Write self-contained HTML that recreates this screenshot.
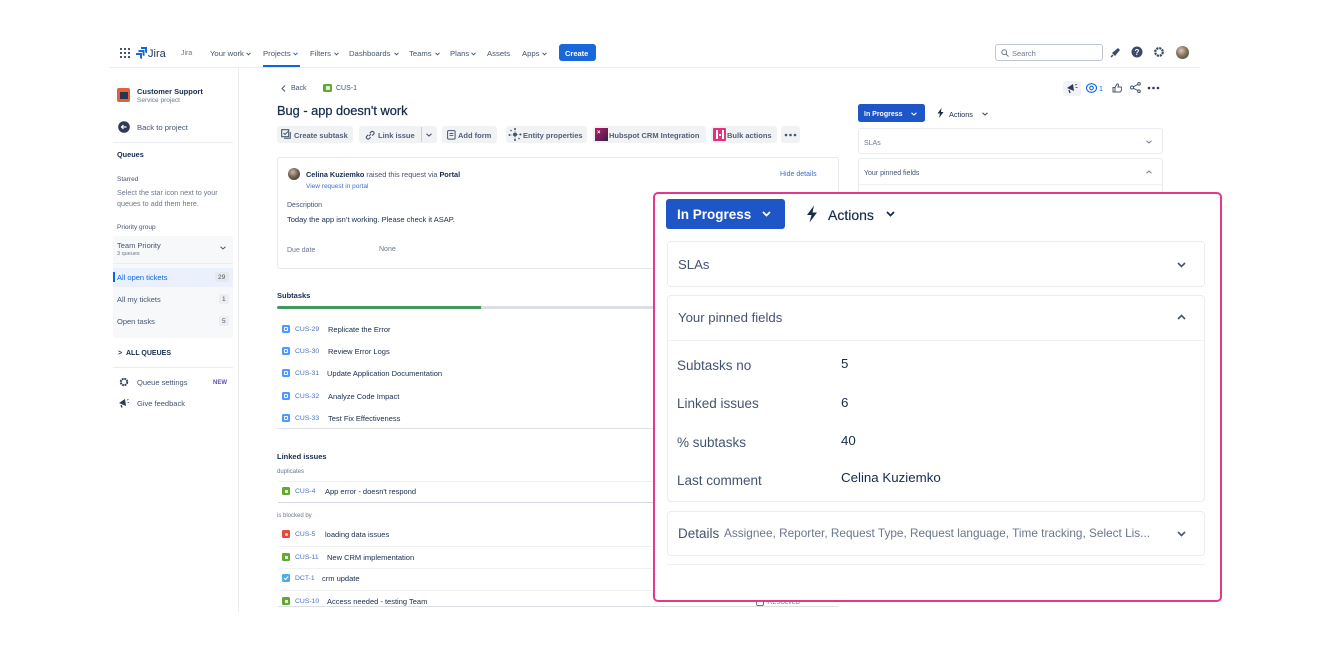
<!DOCTYPE html>
<html><head><meta charset="utf-8">
<style>
*{margin:0;padding:0;box-sizing:border-box}
body{width:1330px;height:650px;background:#fff;position:relative;overflow:hidden;font-family:"Liberation Sans",Arial,sans-serif;color:#172b4d}
.a{position:absolute}
.t{position:absolute;white-space:nowrap;line-height:1;margin-top:1px}
.b{font-weight:bold}
.g{color:#44546f}
.lg{color:#6b778c}
.bl{color:#0c66e4}
.btn{position:absolute;background:#f1f2f4;border-radius:3px;height:17px;top:126px}
.ln{position:absolute;height:1px;background:#e6e8ec}
.box{position:absolute;border:1px solid #ebecf0;border-radius:4px;background:#fff}
.nav{font-size:7.7px;color:#44546f;top:49px}
.tb{font-size:7.5px;font-weight:bold;color:#505f79;top:131px}
.id{font-size:6.8px;color:#4c6fbf}
.row{font-size:7.5px;color:#172b4d}
.sb{font-size:7.5px;color:#44546f}
</style></head><body>

<!-- ============ TOP NAV ============ -->
<svg class="a" style="left:120px;top:48px" width="10" height="10"><g fill="#44546f">
<rect x="0" y="0" width="2" height="2"/><rect x="4" y="0" width="2" height="2"/><rect x="8" y="0" width="2" height="2"/>
<rect x="0" y="4" width="2" height="2"/><rect x="4" y="4" width="2" height="2"/><rect x="8" y="4" width="2" height="2"/>
<rect x="0" y="8" width="2" height="2"/><rect x="4" y="8" width="2" height="2"/><rect x="8" y="8" width="2" height="2"/></g></svg>
<svg class="a" style="left:136px;top:47px" width="11" height="12" viewBox="0 0 11 12"><g fill="#1868db">
<path d="M5 0h6v6a2 2 0 0 1-2-2V2H5z"/><path d="M2.5 3h6v6a2 2 0 0 1-2-2V5h-4z"/><path d="M0 6h6v6a2 2 0 0 1-2-2V8H0z"/></g></svg>
<div class="t" style="left:148px;top:47.5px;font-size:11px;color:#253858">Jira</div>
<div class="t nav" style="left:181px;font-size:7px;color:#6b778c">Jira</div>
<div class="t nav" style="left:210px">Your work</div>
<div class="t nav bl" style="left:263px">Projects</div>
<div class="t nav" style="left:310px">Filters</div>
<div class="t nav" style="left:349px">Dashboards</div>
<div class="t nav" style="left:409px">Teams</div>
<div class="t nav" style="left:450px">Plans</div>
<div class="t nav" style="left:487px">Assets</div>
<div class="t nav" style="left:522px">Apps</div>
<svg class="a" style="left:246px;top:51.5px" width="5" height="4"><path d="M0.5 0.8L2.5 2.8L4.5 0.8" fill="none" stroke="#44546f"/></svg>
<svg class="a" style="left:293px;top:51.5px" width="5" height="4"><path d="M0.5 0.8L2.5 2.8L4.5 0.8" fill="none" stroke="#0c66e4"/></svg>
<svg class="a" style="left:334px;top:51.5px" width="5" height="4"><path d="M0.5 0.8L2.5 2.8L4.5 0.8" fill="none" stroke="#44546f"/></svg>
<svg class="a" style="left:394px;top:51.5px" width="5" height="4"><path d="M0.5 0.8L2.5 2.8L4.5 0.8" fill="none" stroke="#44546f"/></svg>
<svg class="a" style="left:435px;top:51.5px" width="5" height="4"><path d="M0.5 0.8L2.5 2.8L4.5 0.8" fill="none" stroke="#44546f"/></svg>
<svg class="a" style="left:471px;top:51.5px" width="5" height="4"><path d="M0.5 0.8L2.5 2.8L4.5 0.8" fill="none" stroke="#44546f"/></svg>
<svg class="a" style="left:542px;top:51.5px" width="5" height="4"><path d="M0.5 0.8L2.5 2.8L4.5 0.8" fill="none" stroke="#44546f"/></svg>
<div class="a" style="left:263px;top:65px;width:37px;height:2px;background:#0c66e4"></div>
<div class="a" style="left:559px;top:44px;width:37px;height:17px;background:#1868db;border-radius:3px"></div>
<div class="t b" style="left:565px;top:49px;font-size:7.5px;color:#fff">Create</div>
<div class="a" style="left:110px;top:67px;width:1090px;height:1px;background:#ebecf0"></div>

<div class="a" style="left:995px;top:44px;width:108px;height:17px;border:1px solid #c1c7d0;border-radius:3px"></div>
<svg class="a" style="left:1001px;top:49px" width="8" height="8"><circle cx="3.2" cy="3.2" r="2.4" fill="none" stroke="#6b778c" stroke-width="1"/><path d="M5 5L7.5 7.5" stroke="#6b778c"/></svg>
<div class="t" style="left:1012px;top:49px;font-size:7.5px;color:#6b778c">Search</div>
<svg class="a" style="left:1110px;top:47px" width="11" height="11"><path d="M2 6 L8 1 L10 3 L5 9 Z" fill="#3b4a6b"/><path d="M1 10 L3 8" stroke="#3b4a6b" stroke-width="1.5"/></svg>
<svg class="a" style="left:1131px;top:46px" width="12" height="12"><circle cx="6" cy="6" r="5.5" fill="#3b4a6b"/><text x="6" y="9" font-size="8" font-weight="bold" fill="#fff" text-anchor="middle" font-family="Liberation Sans">?</text></svg>
<svg class="a" style="left:1153px;top:46px" width="12" height="12"><circle cx="6" cy="6" r="3.8" fill="none" stroke="#3b4a6b" stroke-width="2.2" stroke-dasharray="2.2 0.8"/><circle cx="6" cy="6" r="2.2" fill="#fff"/></svg>
<div class="a" style="left:1176px;top:46px;width:13px;height:13px;border-radius:50%;background:radial-gradient(circle at 40% 35%,#d9cbb8 0,#8a7460 45%,#2f3a2f 100%)"></div>

<!-- ============ SIDEBAR ============ -->
<div class="a" style="left:238px;top:67px;width:1px;height:545px;background:#ebecf0"></div>
<div class="a" style="left:117px;top:88px;width:13px;height:14px;background:#e2603c;border-radius:2px"></div>
<div class="a" style="left:120px;top:92px;width:8px;height:7px;background:#2a3552"></div>
<div class="t b" style="left:137px;top:87px;font-size:7.5px">Customer Support</div>
<div class="t lg" style="left:137px;top:96.5px;font-size:6.5px">Service project</div>
<svg class="a" style="left:118px;top:121px" width="12" height="12"><circle cx="6" cy="6" r="5.8" fill="#2e3a57"/><path d="M8.5 6H3.5M5.5 4L3.5 6L5.5 8" stroke="#fff" stroke-width="1.2" fill="none"/></svg>
<div class="t sb" style="left:137px;top:123px;font-size:7.7px">Back to project</div>
<div class="a" style="left:113px;top:142px;width:120px;height:1px;background:#ebecf0"></div>
<div class="t b" style="left:117px;top:150px;font-size:7.3px">Queues</div>
<div class="t g" style="left:117px;top:175.5px;font-size:6.5px">Starred</div>
<div class="t lg" style="left:117px;top:188px;font-size:7.2px">Select the star icon next to your</div>
<div class="t lg" style="left:117px;top:199px;font-size:7.2px">queues to add them here.</div>
<div class="t g" style="left:117px;top:223.5px;font-size:6.5px">Priority group</div>
<div class="a" style="left:113px;top:236px;width:120px;height:102px;background:#f7f8f9;border-radius:3px"></div>
<div class="a" style="left:113px;top:263px;width:120px;height:1px;background:#ebecf0"></div>
<div class="t sb" style="left:117px;top:241px;font-size:7.5px">Team Priority</div>
<div class="t lg" style="left:117px;top:251px;font-size:5.5px">3 queues</div>
<svg class="a" style="left:220px;top:246px" width="6" height="4"><path d="M0.5 0.8L3 3L5.5 0.8" fill="none" stroke="#44546f"/></svg>
<div class="a" style="left:113px;top:268px;width:120px;height:19px;background:#eaf1fc"></div>
<div class="a" style="left:113px;top:272px;width:2px;height:10px;background:#0c66e4"></div>
<div class="t bl" style="left:117px;top:273px;font-size:7.5px">All open tickets</div>
<div class="a" style="left:215px;top:272px;width:14px;height:10px;background:#e6e8ec;border-radius:2px"></div>
<div class="t g" style="left:218px;top:273.5px;font-size:6.5px">29</div>
<div class="t sb" style="left:117px;top:295px;font-size:7.5px">All my tickets</div>
<div class="a" style="left:219px;top:294px;width:10px;height:10px;background:#eceef1;border-radius:2px"></div>
<div class="t g" style="left:222px;top:295.5px;font-size:6.5px">1</div>
<div class="t sb" style="left:117px;top:317px;font-size:7.5px">Open tasks</div>
<div class="a" style="left:219px;top:316px;width:10px;height:10px;background:#eceef1;border-radius:2px"></div>
<div class="t g" style="left:222px;top:317.5px;font-size:6.5px">5</div>
<div class="t b" style="left:118px;top:349px;font-size:7px;color:#172b4d">&gt;</div>
<div class="t b" style="left:126px;top:349px;font-size:7px;color:#172b4d">ALL QUEUES</div>
<div class="a" style="left:113px;top:367px;width:120px;height:1px;background:#ebecf0"></div>
<svg class="a" style="left:119px;top:377px" width="10" height="10"><circle cx="5" cy="5" r="3.2" fill="none" stroke="#2e3a57" stroke-width="2" stroke-dasharray="1.8 0.7"/><circle cx="5" cy="5" r="1.5" fill="#fff"/></svg>
<div class="t sb" style="left:137px;top:378px;font-size:7.5px">Queue settings</div>
<div class="t b" style="left:213px;top:378.7px;font-size:6px;color:#5e4db2">NEW</div>
<svg class="a" style="left:118px;top:398px" width="11" height="10"><path d="M1 5 L7 1 L8 8 Z" fill="#2e3a57"/><path d="M3 7 L4 9.5" stroke="#2e3a57" stroke-width="1.3"/><path d="M9 2 L10.5 1.5M9.5 4.5 L11 4.5" stroke="#2e3a57" stroke-width="0.8"/></svg>
<div class="t sb" style="left:137px;top:399px;font-size:7.5px">Give feedback</div>

<!-- ============ MAIN ============ -->
<svg class="a" style="left:281px;top:85px" width="5" height="7"><path d="M4 0.5L1 3.5L4 6.5" fill="none" stroke="#44546f" stroke-width="1"/></svg>
<div class="t g" style="left:291px;top:84.2px;font-size:7px">Back</div>
<div class="a" style="left:323px;top:84px;width:9px;height:8px;background:#63a833;border-radius:1.5px"></div>
<div class="a" style="left:325.5px;top:86px;width:4px;height:4px;background:#dff0d0"></div>
<div class="t g" style="left:336px;top:84.2px;font-size:7px">CUS-1</div>
<div class="t" style="left:277px;top:104px;font-size:12.8px;color:#172b4d;-webkit-text-stroke:0.25px #172b4d">Bug - app doesn't work</div>

<!-- toolbar -->
<div class="btn" style="left:277px;width:76px"></div>
<svg class="a" style="left:281px;top:129px" width="10" height="10"><rect x="0.7" y="0.7" width="7" height="7" fill="none" stroke="#44546f" stroke-width="1.1"/><path d="M2.5 4L4 5.5L7 2.5" fill="none" stroke="#44546f"/><path d="M3 9.3H9.3V3" fill="none" stroke="#44546f"/></svg>
<div class="t tb" style="left:294px">Create subtask</div>
<div class="btn" style="left:359px;width:78px"></div>
<div class="a" style="left:421px;top:127px;width:1px;height:15px;background:#c9ced6"></div>
<svg class="a" style="left:365px;top:130px" width="10" height="10"><path d="M4 6L6 4M3.2 4.8L1.8 6.2a1.7 1.7 0 0 0 2.4 2.4L5.6 7.2M4.8 3.2L6.2 1.8a1.7 1.7 0 0 1 2.4 2.4L7.2 5.6" fill="none" stroke="#44546f" stroke-width="1.1"/></svg>
<div class="t tb" style="left:378px">Link issue</div>
<svg class="a" style="left:426px;top:133px" width="6" height="4"><path d="M0.5 0.8L3 3L5.5 0.8" fill="none" stroke="#44546f" stroke-width="1.1"/></svg>
<div class="btn" style="left:442px;width:55px"></div>
<svg class="a" style="left:447px;top:130px" width="9" height="10"><rect x="0.6" y="0.6" width="7.5" height="8.5" rx="1" fill="none" stroke="#44546f" stroke-width="1"/><path d="M2.5 3.5H6.3M2.5 5.6H6.3" stroke="#44546f" stroke-width="0.9"/></svg>
<div class="t tb" style="left:458px">Add form</div>
<div class="btn" style="left:506px;width:81px"></div>
<svg class="a" style="left:508px;top:128px" width="14" height="13"><circle cx="7" cy="6.5" r="2" fill="#44546f"/><g fill="#44546f"><circle cx="7" cy="1" r="1"/><circle cx="7" cy="12" r="1"/><circle cx="1.5" cy="7" r="1"/><circle cx="12.5" cy="6.5" r="1"/><circle cx="3" cy="2.5" r="0.8"/><circle cx="11" cy="10.5" r="0.8"/></g><path d="M1.5 7H5M9 6.5H12.5M7 1V4.5M7 8.5V12" stroke="#44546f" stroke-width="0.6" stroke-dasharray="1 0.8"/></svg>
<div class="t tb" style="left:523px">Entity properties</div>
<div class="btn" style="left:593px;width:113px"></div>
<div class="a" style="left:595px;top:128px;width:13px;height:13px;background:linear-gradient(135deg,#c2185b 0,#7a1d5c 50%,#2a2540 100%)"></div>
<div class="t b" style="left:597px;top:129px;font-size:6px;color:#fff">×</div>
<div class="t tb" style="left:609px">Hubspot CRM Integration</div>
<div class="btn" style="left:711px;width:66px"></div>
<div class="a" style="left:713px;top:128px;width:13px;height:13px;background:#e2317e;border-radius:1px"></div>
<div class="a" style="left:715.5px;top:130px;width:2px;height:9px;background:#fff"></div>
<div class="a" style="left:721.5px;top:130px;width:2px;height:9px;background:#fff"></div>
<div class="a" style="left:718.5px;top:134px;width:2px;height:1.5px;background:#fff"></div>
<div class="t tb" style="left:727px">Bulk actions</div>
<div class="btn" style="left:781px;width:19px"></div>
<svg class="a" style="left:784px;top:133px" width="13" height="4"><g fill="#44546f"><circle cx="2" cy="2" r="1.3"/><circle cx="6.5" cy="2" r="1.3"/><circle cx="11" cy="2" r="1.3"/></g></svg>

<!-- request card -->
<div class="a" style="left:277px;top:157px;width:562px;height:112px;border:1px solid #e6e8ec;border-radius:3px"></div>
<div class="a" style="left:288px;top:168px;width:12px;height:12px;border-radius:50%;background:radial-gradient(circle at 40% 35%,#c8b8a6 0,#6d5c4c 50%,#2a302a 100%)"></div>
<div class="t" style="left:306px;top:170px;font-size:7.3px;color:#44546f"><span class="b" style="color:#172b4d">Celina Kuziemko</span> raised this request via <span class="b" style="color:#172b4d">Portal</span></div>
<div class="t bl" style="left:306px;top:183.4px;font-size:6.5px;color:#3c6fd8">View request in portal</div>
<div class="t" style="left:780px;top:170.2px;font-size:7px;color:#3c6fd8">Hide details</div>
<div class="t g" style="left:287px;top:201.2px;font-size:7px">Description</div>
<div class="t" style="left:287px;top:214.9px;font-size:7.5px">Today the app isn’t working. Please check it ASAP.</div>
<div class="t lg" style="left:287px;top:246.2px;font-size:7px">Due date</div>
<div class="t lg" style="left:379px;top:245.2px;font-size:7px">None</div>

<!-- subtasks -->
<div class="t b" style="left:277px;top:291px;font-size:7.5px">Subtasks</div>
<div class="a" style="left:277px;top:306px;width:204px;height:3px;background:#3f9a5c;border-radius:1.5px 0 0 1.5px"></div>
<div class="a" style="left:481px;top:306px;width:357px;height:3px;background:#dcdfe4"></div>

<div class="a" style="left:282px;top:325px;width:8px;height:8px;background:#4c9aff;border-radius:1.5px"></div><div class="a" style="left:284px;top:327px;width:4px;height:4px;border:1px solid #fff;border-radius:1px"></div>
<div class="t id" style="left:295px;top:326.3px">CUS-29</div><div class="t row" style="left:328px;top:324.9px">Replicate the Error</div>
<div class="a" style="left:282px;top:347px;width:8px;height:8px;background:#4c9aff;border-radius:1.5px"></div><div class="a" style="left:284px;top:349px;width:4px;height:4px;border:1px solid #fff;border-radius:1px"></div>
<div class="t id" style="left:295px;top:348.3px">CUS-30</div><div class="t row" style="left:328px;top:346.9px">Review Error Logs</div>
<div class="a" style="left:282px;top:369px;width:8px;height:8px;background:#4c9aff;border-radius:1.5px"></div><div class="a" style="left:284px;top:371px;width:4px;height:4px;border:1px solid #fff;border-radius:1px"></div>
<div class="t id" style="left:295px;top:370.3px">CUS-31</div><div class="t row" style="left:327px;top:368.9px">Update Application Documentation</div>
<div class="a" style="left:282px;top:392px;width:8px;height:8px;background:#4c9aff;border-radius:1.5px"></div><div class="a" style="left:284px;top:394px;width:4px;height:4px;border:1px solid #fff;border-radius:1px"></div>
<div class="t id" style="left:295px;top:393.3px">CUS-32</div><div class="t row" style="left:328px;top:391.9px">Analyze Code Impact</div>
<div class="a" style="left:282px;top:414px;width:8px;height:8px;background:#4c9aff;border-radius:1.5px"></div><div class="a" style="left:284px;top:416px;width:4px;height:4px;border:1px solid #fff;border-radius:1px"></div>
<div class="t id" style="left:295px;top:415.3px">CUS-33</div><div class="t row" style="left:328px;top:413.9px">Test Fix Effectiveness</div>
<div class="ln" style="left:277px;top:428px;width:561px;background:#dfe1e6"></div>

<!-- linked issues -->
<div class="t b" style="left:277px;top:452px;font-size:7.5px">Linked issues</div>
<div class="t lg" style="left:277px;top:468px;font-size:6px">duplicates</div>
<div class="ln" style="left:278px;top:481px;width:560px;background:#eef0f2"></div>
<div class="a" style="left:282px;top:487px;width:8px;height:8px;background:#63a833;border-radius:1.5px"></div><div class="a" style="left:284.5px;top:489.5px;width:3px;height:3px;background:#dff0d0"></div>
<div class="t id" style="left:295px;top:488.3px">CUS-4</div><div class="t row" style="left:325px;top:486.9px">App error - doesn't respond</div>
<div class="ln" style="left:278px;top:502px;width:560px;background:#d5d8de"></div>
<div class="t lg" style="left:277px;top:512px;font-size:6px">is blocked by</div>
<div class="a" style="left:282px;top:530px;width:8px;height:8px;background:#e5493a;border-radius:1.5px"></div><div class="a" style="left:284.5px;top:532.5px;width:3px;height:3px;background:#fbd3cd;border-radius:50%"></div>
<div class="t id" style="left:295px;top:531.3px">CUS-5</div><div class="t row" style="left:325px;top:529.9px">loading data issues</div>
<div class="ln" style="left:278px;top:546px;width:560px;background:#f1f2f4"></div>
<div class="a" style="left:282px;top:553px;width:8px;height:8px;background:#63a833;border-radius:1.5px"></div><div class="a" style="left:284.5px;top:555.5px;width:3px;height:3px;background:#dff0d0"></div>
<div class="t id" style="left:295px;top:554.3px">CUS-11</div><div class="t row" style="left:327px;top:552.9px">New CRM implementation</div>
<div class="ln" style="left:278px;top:568px;width:560px;background:#f1f2f4"></div>
<div class="a" style="left:282px;top:574px;width:8px;height:8px;background:#4bade8;border-radius:1.5px"></div>
<svg class="a" style="left:282px;top:574px" width="8" height="8"><path d="M2 4L3.5 5.5L6.2 2.5" fill="none" stroke="#fff" stroke-width="1.1"/></svg>
<div class="t id" style="left:295px;top:575.3px">DCT-1</div><div class="t row" style="left:322px;top:573.9px">crm update</div>
<div class="ln" style="left:278px;top:590px;width:560px;background:#f1f2f4"></div>
<div class="a" style="left:282px;top:597px;width:8px;height:8px;background:#63a833;border-radius:1.5px"></div><div class="a" style="left:284.5px;top:599.5px;width:3px;height:3px;background:#dff0d0"></div>
<div class="t id" style="left:295px;top:598.3px">CUS-10</div><div class="t row" style="left:327px;top:596.9px">Access needed - testing Team</div>
<div class="ln" style="left:278px;top:606px;width:560px;background:#dcdfe4"></div>
<div class="a" style="left:756px;top:597px;width:8px;height:9px;border:1.5px solid #6b778c;border-top:none;border-radius:0 0 2px 2px"></div>
<div class="t lg" style="left:768px;top:599px;font-size:6px">RESOLVED</div>

<!-- right panel (background) -->
<div class="a" style="left:1063px;top:81px;width:18px;height:15px;background:#f1f2f4;border-radius:3px"></div>
<svg class="a" style="left:1066px;top:83px" width="12" height="11"><path d="M1 5 L7 1 L8 8 Z" fill="#2e3a57"/><path d="M3 7 L4 10" stroke="#2e3a57" stroke-width="1.3"/><path d="M9 2 L11 1.5M9.5 4.5 L11.5 4.5" stroke="#2e3a57" stroke-width="0.8"/></svg>
<svg class="a" style="left:1086px;top:83px" width="11" height="10"><ellipse cx="5.5" cy="5" rx="5" ry="4.3" fill="none" stroke="#0c66e4" stroke-width="1.1"/><circle cx="5.5" cy="5" r="1.8" fill="none" stroke="#0c66e4" stroke-width="1.1"/></svg>
<div class="t" style="left:1099px;top:84.5px;font-size:7px;color:#0c66e4">1</div>
<svg class="a" style="left:1112px;top:83px" width="10" height="10"><path d="M1 4.5H3V9H1zM3 4.5L5 1a1 1 0 0 1 1.5 1L6 4h2.8a1 1 0 0 1 1 1.2L9 8.2A1 1 0 0 1 8 9H3" fill="none" stroke="#44546f" stroke-width="1"/></svg>
<svg class="a" style="left:1130px;top:82px" width="11" height="11"><circle cx="2" cy="5.5" r="1.5" fill="none" stroke="#44546f"/><circle cx="9" cy="1.8" r="1.3" fill="none" stroke="#44546f"/><circle cx="9" cy="9.2" r="1.3" fill="none" stroke="#44546f"/><path d="M3.3 4.8L7.8 2.4M3.3 6.2L7.8 8.6" stroke="#44546f"/></svg>
<svg class="a" style="left:1147px;top:86px" width="13" height="4"><g fill="#2e3a57"><circle cx="2" cy="2" r="1.3"/><circle cx="6.5" cy="2" r="1.3"/><circle cx="11" cy="2" r="1.3"/></g></svg>

<div class="a" style="left:858px;top:104px;width:67px;height:18px;background:#1e55c7;border-radius:2.5px"></div>
<div class="t b" style="left:864px;top:110px;font-size:7px;color:#fff">In Progress</div>
<svg class="a" style="left:911px;top:112px" width="6" height="4"><path d="M0.5 0.8L3 3L5.5 0.8" fill="none" stroke="#fff" stroke-width="1.1"/></svg>
<svg class="a" style="left:937px;top:108px" width="7" height="10"><path d="M4.5 0L0.5 5.5H3L2 10L6.5 4H4Z" fill="#172b4d"/></svg>
<div class="t" style="left:949px;top:109.5px;font-size:7.3px;color:#172b4d">Actions</div>
<svg class="a" style="left:982px;top:112px" width="6" height="4"><path d="M0.5 0.8L3 3L5.5 0.8" fill="none" stroke="#44546f" stroke-width="1.1"/></svg>
<div class="box" style="left:858px;top:128px;width:305px;height:26px;border-radius:3px"></div>
<div class="t lg" style="left:864px;top:138.5px;font-size:7px">SLAs</div>
<svg class="a" style="left:1146px;top:140px" width="6" height="4"><path d="M0.5 0.8L3 3L5.5 0.8" fill="none" stroke="#6b778c" stroke-width="1"/></svg>
<div class="box" style="left:858px;top:158px;width:305px;height:60px;border-radius:3px"></div>
<div class="t g" style="left:864px;top:168.5px;font-size:7px">Your pinned fields</div>
<svg class="a" style="left:1146px;top:170px" width="6" height="4"><path d="M0.5 3.2L3 1L5.5 3.2" fill="none" stroke="#6b778c" stroke-width="1"/></svg>
<div class="ln" style="left:859px;top:184px;width:303px;background:#f1f2f4"></div>

<!-- ============ OVERLAY ============ -->
<div class="a" style="left:653px;top:192px;width:569px;height:410px;border:2px solid #e2388d;border-radius:5px;background:#fff"></div>
<div class="a" style="left:666px;top:199px;width:119px;height:30px;background:#1e55c7;border-radius:3px"></div>
<div class="t b" style="left:677px;top:207px;font-size:13.5px;color:#fff">In Progress</div>
<svg class="a" style="left:762px;top:211px" width="9" height="6"><path d="M1 1L4.5 4.5L8 1" fill="none" stroke="#fff" stroke-width="1.8"/></svg>
<svg class="a" style="left:806px;top:205px" width="12" height="18" viewBox="0 0 12 18"><path d="M8 0.5L1 10H5.5L3.5 17.5L11 7.5H6.5L8 0.5Z" fill="#172b4d"/></svg>
<div class="t" style="left:828px;top:206.5px;font-size:14px;color:#172b4d;-webkit-text-stroke:0.2px #172b4d">Actions</div>
<svg class="a" style="left:886px;top:211px" width="9" height="6"><path d="M1 1L4.5 4.5L8 1" fill="none" stroke="#172b4d" stroke-width="1.8"/></svg>

<div class="box" style="left:667px;top:241px;width:538px;height:46px"></div>
<div class="t g" style="left:678px;top:257px;font-size:13.2px">SLAs</div>
<svg class="a" style="left:1177px;top:262px" width="9" height="6"><path d="M1 1L4.5 4.5L8 1" fill="none" stroke="#44546f" stroke-width="1.6"/></svg>

<div class="box" style="left:667px;top:295px;width:538px;height:207px"></div>
<div class="t g" style="left:678px;top:310px;font-size:13.2px">Your pinned fields</div>
<svg class="a" style="left:1177px;top:314px" width="9" height="6"><path d="M1 5L4.5 1.5L8 5" fill="none" stroke="#44546f" stroke-width="1.6"/></svg>
<div class="ln" style="left:668px;top:340px;width:536px;background:#f1f2f4"></div>
<div class="t g" style="left:677px;top:357.6px;font-size:13.5px">Subtasks no</div>
<div class="t g" style="left:677px;top:395.6px;font-size:13.5px">Linked issues</div>
<div class="t g" style="left:677px;top:434.6px;font-size:13.5px">% subtasks</div>
<div class="t g" style="left:677px;top:472.6px;font-size:13.5px">Last comment</div>
<div class="t" style="left:841px;top:355.5px;font-size:13.3px">5</div>
<div class="t" style="left:841px;top:394.5px;font-size:13.3px">6</div>
<div class="t" style="left:841px;top:432.5px;font-size:13.3px">40</div>
<div class="t" style="left:841px;top:469.7px;font-size:13.3px">Celina Kuziemko</div>

<div class="box" style="left:667px;top:511px;width:538px;height:45px"></div>
<div class="t g" style="left:678px;top:526px;font-size:13.5px">Details</div>
<div class="t lg" style="left:724px;top:527px;font-size:11.8px">Assignee, Reporter, Request Type, Request language, Time tracking, Select Lis...</div>
<svg class="a" style="left:1177px;top:531px" width="9" height="6"><path d="M1 1L4.5 4.5L8 1" fill="none" stroke="#44546f" stroke-width="1.6"/></svg>
<div class="ln" style="left:667px;top:564px;width:538px;background:#eceef1"></div>

</body></html>
